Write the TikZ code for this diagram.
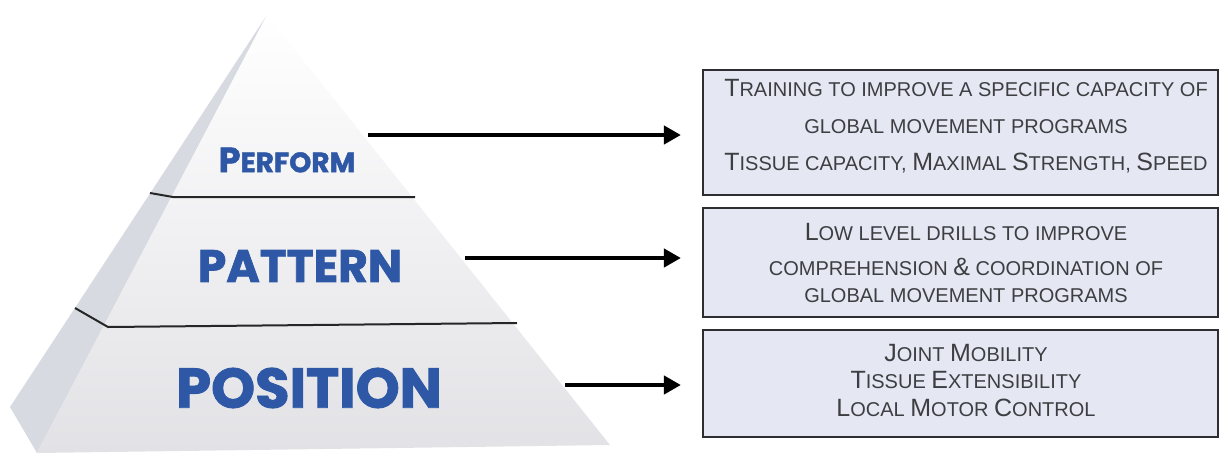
\documentclass[tikz,border=0pt]{standalone}
\usepackage{fontspec}
\setmainfont{Liberation Sans}
\newfontfamily\titlefont{Poppins}[BoldFeatures={FakeBold=1.6}]
\usetikzlibrary{arrows.meta}
\definecolor{pyrblue}{RGB}{46,88,166}
\definecolor{boxfill}{RGB}{229,232,243}
\definecolor{boxline}{RGB}{45,45,50}
\definecolor{boxtext}{RGB}{62,62,66}
\definecolor{leftface}{RGB}{216,218,226}
\definecolor{frontbot}{RGB}{226,226,230}
\newcommand\Bg[1]{{\fontsize{25}{25}\selectfont #1}}
\begin{document}
\begin{tikzpicture}[x=1pt,y=-1pt,
  layerline/.style={draw=black!85, line width=2pt},
  ptitle/.style={text=pyrblue, font=\titlefont\bfseries, inner sep=0pt},
  descbox/.style={draw=boxline, fill=boxfill, line width=2.2pt, inner sep=0pt},
  desctext/.style={text=boxtext, font=\fontsize{20}{20}\selectfont, inner sep=0pt},
  arr/.style={line width=4.5pt, -{Triangle[length=17pt,width=18pt]}}]
\useasboundingbox (0,0) rectangle (1219,456);
% pyramid
\fill[leftface] (267,15) -- (10,407) -- (37,453) -- cycle;
\shade[top color=white, bottom color=frontbot] (267,15) -- (37,453) -- (610,445) -- cycle;
\draw[layerline] (150,193) -- (173,197) -- (415,197);
\draw[layerline] (75,308) -- (108,327) -- (517,323);
\node[ptitle] (perform) at (287,160) {\fontsize{35}{35}\selectfont P\fontsize{28}{28}\selectfont ERFORM};
\node[ptitle] (pattern) at (300,266) {\fontsize{45.5}{45.5}\selectfont PATTERN};
\node[ptitle] (position) at (309,388) {\fontsize{56}{56}\selectfont POSITION};
% boxes
\node[descbox, minimum width=515, minimum height=125] (b1) at (960.5,132.5) {};
\node[descbox, minimum width=515, minimum height=109] (b2) at (960.5,262.5) {};
\node[descbox, minimum width=515, minimum height=107] (b3) at (960.5,383.5) {};
\node[desctext] (t11) at (966,88) {\Bg{T}RAINING TO IMPROVE A SPECIFIC CAPACITY OF};
\node[desctext] (t12) at (966,127) {GLOBAL MOVEMENT PROGRAMS};
\node[desctext] (t13) at (966,163) {\Bg{T}ISSUE CAPACITY, \Bg{M}AXIMAL \Bg{S}TRENGTH, \Bg{S}PEED};
\node[desctext] (t21) at (966,232) {\Bg{L}OW LEVEL DRILLS TO IMPROVE};
\node[desctext] (t22) at (966,267) {COMPREHENSION \Bg{\&} COORDINATION OF};
\node[desctext] (t23) at (966,296) {GLOBAL MOVEMENT PROGRAMS};
\node[desctext] (t31) at (966,353) {\Bg{J}OINT \Bg{M}OBILITY};
\node[desctext] (t32) at (966,380) {\Bg{T}ISSUE \Bg{E}XTENSIBILITY};
\node[desctext] (t33) at (966,408) {\Bg{L}OCAL \Bg{M}OTOR \Bg{C}ONTROL};
% arrows
\coordinate (a1) at (368,135);
\coordinate (a2) at (465,258);
\coordinate (a3) at (565,385);
\draw[arr, shorten >=21pt] (a1) -- (a1 -| b1.west);
\draw[arr, shorten >=21pt] (a2) -- (a2 -| b2.west);
\draw[arr, shorten >=21pt] (a3) -- (a3 -| b3.west);
\end{tikzpicture}
\end{document}
